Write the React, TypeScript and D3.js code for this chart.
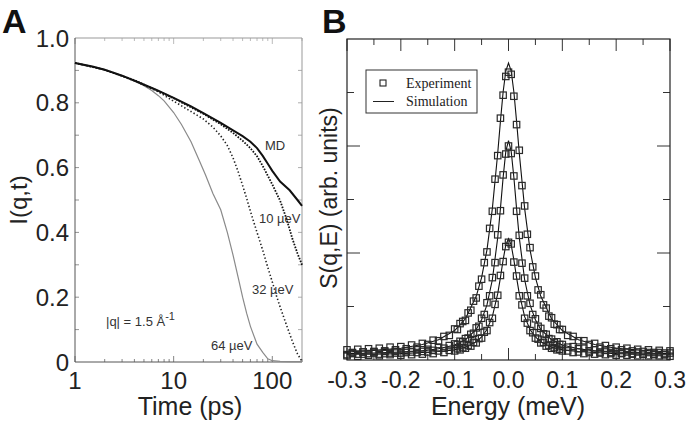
import React from "react";
import * as d3 from "d3";

// ---------- Panel A data ----------
const T_MD = [1, 1.5, 2, 3, 4.5, 6.7, 10, 15, 20, 30, 40, 50, 60, 70, 80, 90, 100, 120, 150, 180, 200];
const I_MD = [0.923, 0.912, 0.902, 0.884, 0.862, 0.840, 0.815, 0.789, 0.768, 0.738, 0.715, 0.697, 0.680, 0.660, 0.636, 0.612, 0.590, 0.557, 0.530, 0.500, 0.482];

const T_10 = [1, 2, 4, 10, 20, 30, 40, 50, 60, 70, 80, 90, 100, 120, 140, 160, 180, 200];
const I_10 = [0.923, 0.902, 0.870, 0.814, 0.766, 0.734, 0.707, 0.683, 0.660, 0.635, 0.605, 0.575, 0.548, 0.498, 0.440, 0.380, 0.335, 0.300];

const T_32 = [1, 2, 4, 7, 10, 15, 20, 25, 30, 35, 40, 45, 50, 55, 60, 70, 80, 90, 100, 110, 120, 140, 160, 180, 200];
const I_32 = [0.923, 0.902, 0.868, 0.834, 0.805, 0.773, 0.750, 0.725, 0.698, 0.668, 0.630, 0.588, 0.545, 0.505, 0.465, 0.400, 0.345, 0.292, 0.247, 0.205, 0.170, 0.112, 0.063, 0.025, 0.002];

const T_64 = [1, 2, 3, 4, 5, 6, 7, 8, 10, 12, 15, 18, 21, 25, 30, 35, 40, 45, 50, 55, 60, 70, 80, 90, 100, 120, 150, 200];
const I_64 = [0.923, 0.902, 0.884, 0.868, 0.853, 0.838, 0.822, 0.806, 0.770, 0.733, 0.680, 0.625, 0.578, 0.520, 0.470, 0.400, 0.330, 0.262, 0.200, 0.150, 0.110, 0.055, 0.030, 0.010, 0.004, 0.002, 0.001, 0.001];

const A_Y_TICKS = [0, 0.2, 0.4, 0.6, 0.8, 1.0];
const A_Y_LABELS = ["0", "0.2", "0.4", "0.6", "0.8", "1.0"];
const A_X_TICKS = [1, 10, 100];
const A_X_LABELS = ["1", "10", "100"];

// ---------- Panel B data ----------
const E_EXP = [
  -0.30, -0.29, -0.28, -0.27, -0.26, -0.25, -0.24, -0.23, -0.22, -0.21, -0.20, -0.19, -0.18, -0.17, -0.16, -0.15, -0.14, -0.13, -0.12, -0.11,
  -0.100, -0.095, -0.090, -0.085, -0.080, -0.075, -0.070, -0.065, -0.060, -0.055, -0.050, -0.045, -0.040, -0.035, -0.030, -0.025, -0.020, -0.015, -0.010, -0.005,
  0,
  0.005, 0.010, 0.015, 0.020, 0.025, 0.030, 0.035, 0.040, 0.045, 0.050, 0.055, 0.060, 0.065, 0.070, 0.075, 0.080, 0.085, 0.090, 0.095, 0.100,
  0.11, 0.12, 0.13, 0.14, 0.15, 0.16, 0.17, 0.18, 0.19, 0.20, 0.21, 0.22, 0.23, 0.24, 0.25, 0.26, 0.27, 0.28, 0.29, 0.30,
];
const EXP_TALL = [
  0.19, 0.13, 0.20, 0.15, 0.21, 0.16, 0.22, 0.17, 0.24, 0.19, 0.25, 0.21, 0.28, 0.24, 0.31, 0.29, 0.37, 0.36, 0.44, 0.46,
  0.58, 0.57, 0.68, 0.72, 0.74, 0.88, 0.93, 1.10, 1.16, 1.38, 1.51, 1.82, 2.02, 2.46, 2.78, 3.38, 3.82, 4.52, 4.95, 5.30,
  5.38,
  5.34, 4.93, 4.40, 3.92, 3.26, 2.88, 2.35, 2.10, 1.74, 1.57, 1.31, 1.22, 1.03, 0.97, 0.82, 0.79, 0.67, 0.66, 0.57, 0.57,
  0.46, 0.44, 0.36, 0.36, 0.29, 0.31, 0.24, 0.27, 0.21, 0.24, 0.19, 0.22, 0.17, 0.20, 0.16, 0.19, 0.14, 0.18, 0.13, 0.17,
];
const EXP_MID = [
  0.10, 0.14, 0.11, 0.15, 0.12, 0.15, 0.11, 0.16, 0.13, 0.16, 0.13, 0.17, 0.15, 0.19, 0.16, 0.20, 0.18, 0.23, 0.22, 0.27,
  0.30, 0.29, 0.35, 0.34, 0.40, 0.41, 0.48, 0.50, 0.60, 0.63, 0.78, 0.85, 1.07, 1.20, 1.54, 1.82, 2.34, 2.79, 3.46, 3.85,
  4.00,
  3.86, 3.44, 2.78, 2.33, 1.81, 1.53, 1.20, 1.06, 0.85, 0.77, 0.63, 0.59, 0.49, 0.48, 0.40, 0.39, 0.33, 0.34, 0.29, 0.29,
  0.24, 0.25, 0.21, 0.22, 0.17, 0.19, 0.15, 0.18, 0.14, 0.16, 0.13, 0.15, 0.12, 0.15, 0.11, 0.14, 0.11, 0.14, 0.10, 0.13,
];
const EXP_LOW = [
  0.08, 0.12, 0.07, 0.11, 0.09, 0.13, 0.08, 0.12, 0.10, 0.13, 0.09, 0.14, 0.10, 0.14, 0.11, 0.15, 0.12, 0.17, 0.14, 0.18,
  0.17, 0.21, 0.19, 0.23, 0.22, 0.27, 0.26, 0.33, 0.32, 0.40, 0.41, 0.52, 0.55, 0.70, 0.78, 1.04, 1.21, 1.58, 1.84, 2.12,
  2.20,
  2.17, 1.83, 1.57, 1.20, 1.03, 0.78, 0.69, 0.55, 0.51, 0.41, 0.39, 0.32, 0.33, 0.26, 0.27, 0.22, 0.23, 0.19, 0.20, 0.17,
  0.17, 0.14, 0.15, 0.12, 0.14, 0.11, 0.13, 0.10, 0.12, 0.09, 0.12, 0.09, 0.11, 0.08, 0.11, 0.08, 0.10, 0.08, 0.10, 0.07,
];

const E_SIM = [-0.30, -0.25, -0.20, -0.16, -0.13, -0.10, -0.08, -0.06, -0.05, -0.04, -0.03, -0.02, -0.015, -0.01, -0.005, 0,
  0.005, 0.01, 0.015, 0.02, 0.03, 0.04, 0.05, 0.06, 0.08, 0.10, 0.13, 0.16, 0.20, 0.25, 0.30];
const SIM_TALL = [0.15, 0.18, 0.22, 0.29, 0.38, 0.55, 0.77, 1.19, 1.54, 2.06, 2.83, 3.87, 4.46, 5.01, 5.40, 5.55,
  5.40, 5.01, 4.46, 3.87, 2.83, 2.06, 1.54, 1.19, 0.77, 0.55, 0.38, 0.29, 0.22, 0.18, 0.15];
const SIM_MID = [0.12, 0.13, 0.15, 0.17, 0.21, 0.28, 0.38, 0.57, 0.75, 1.03, 1.50, 2.29, 2.83, 3.41, 3.90, 4.10,
  3.90, 3.41, 2.83, 2.29, 1.50, 1.03, 0.75, 0.57, 0.38, 0.28, 0.21, 0.17, 0.15, 0.13, 0.12];
const SIM_LOW = [0.11, 0.11, 0.12, 0.14, 0.16, 0.19, 0.24, 0.34, 0.43, 0.57, 0.81, 1.24, 1.54, 1.87, 2.15, 2.27,
  2.15, 1.87, 1.54, 1.24, 0.81, 0.57, 0.43, 0.34, 0.24, 0.19, 0.16, 0.14, 0.12, 0.11, 0.11];

const B_X_TICKS = [-0.3, -0.2, -0.1, 0, 0.1, 0.2, 0.3];
const B_X_LABELS = ["-0.3", "-0.2", "-0.1", "0.0", "0.1", "0.2", "0.3"];
const B_X_MINOR = [-0.25, -0.15, -0.05, 0.05, 0.15, 0.25];
const B_Y_MAJOR = [2, 4];
const B_Y_MINOR = [1, 3, 5];

const SANS = "'Liberation Sans', Arial, Helvetica, sans-serif";
const SERIF = "'Liberation Serif', 'Times New Roman', serif";

export default function App() {
  // Panel A scales
  const xA = d3.scaleLog().domain([1, 200]).range([75, 302]);
  const yA = d3.scaleLinear().domain([0, 1]).range([362, 38]);
  const lineA = (ts: number[], is: number[]) =>
    d3.line<number>().x((_, i) => xA(ts[i])).y((d) => yA(d))(is) || "";

  // Panel B scales
  const xB = d3.scaleLinear().domain([-0.3, 0.3]).range([347, 670]);
  const yB = d3.scaleLinear().domain([0, 6]).range([360, 39]);
  const lineB = (vals: number[]) =>
    d3.line<number>().x((_, i) => xB(E_SIM[i])).y((d) => yB(d))(vals) || "";

  const logTicks = xA.ticks();
  const aYMinor = d3.range(1, 10).map((k) => k / 10);

  const sq = 6.4;
  const expSeries = [EXP_TALL, EXP_MID, EXP_LOW];

  return (
    <svg width={689} height={423} style={{ position: "absolute", left: 0, top: 0, background: "#fff" }}>
      <rect x={0} y={0} width={689} height={423} fill="#fff" />
      {/* ================= Panel A ================= */}
      <text x={2} y={33} fontFamily={SANS} fontWeight="bold" fontSize={34} fill="#111">A</text>
      {logTicks.map((t, i) => {
        const major = t === 1 || t === 10 || t === 100;
        const x = xA(t);
        return (
          <g key={"lt" + i}>
            <line x1={x} x2={x} y1={362} y2={major ? 356 : 359} stroke="#666" strokeWidth={0.8} />
            <line x1={x} x2={x} y1={38} y2={major ? 44 : 41} stroke="#aaa" strokeWidth={0.8} />
          </g>
        );
      })}
      {aYMinor.map((v, i) => (
        <g key={"ay" + i}>
          <line x1={75} x2={79} y1={yA(v)} y2={yA(v)} stroke="#777" strokeWidth={0.8} />
          <line x1={302} x2={298} y1={yA(v)} y2={yA(v)} stroke="#999" strokeWidth={0.8} />
        </g>
      ))}
      <line x1={75} x2={302} y1={38} y2={38} stroke="#999" strokeWidth={1} />
      <line x1={302} x2={302} y1={38} y2={362} stroke="#999" strokeWidth={1} />
      <line x1={75} x2={75} y1={38} y2={362} stroke="#555" strokeWidth={1} />
      <line x1={75} x2={302} y1={362} y2={362} stroke="#555" strokeWidth={1} />

      <path d={lineA(T_64, I_64)} fill="none" stroke="#8a8a8a" strokeWidth={1.2} />
      <path d={lineA(T_32, I_32)} fill="none" stroke="#222" strokeWidth={1.6} strokeDasharray="1.4,2.2" />
      <path d={lineA(T_10, I_10)} fill="none" stroke="#111" strokeWidth={1.8} strokeDasharray="1.6,1.4" />
      <path d={lineA(T_MD, I_MD)} fill="none" stroke="#111" strokeWidth={2} />

      <g fontFamily={SANS} fontSize={13} fill="#333">
        <text x={265} y={150}>MD</text>
        <text x={259} y={223}>10 µeV</text>
        <text x={252} y={294}>32 µeV</text>
        <text x={211} y={350}>64 µeV</text>
        <text x={106} y={326}>
          |q| = 1.5 Å<tspan dy={-6} fontSize={11}>-1</tspan>
        </text>
      </g>

      <g fontFamily={SANS} fontSize={24} fill="#222">
        {A_Y_TICKS.map((v, i) => (
          <text key={"ayl" + i} x={69} y={yA(v)} dy="0.36em" textAnchor="end">{A_Y_LABELS[i]}</text>
        ))}
        {A_X_TICKS.map((v, i) => (
          <text key={"axl" + i} x={xA(v)} y={389} textAnchor="middle">{A_X_LABELS[i]}</text>
        ))}
      </g>
      <text x={190} y={415} textAnchor="middle" fontFamily={SANS} fontSize={25} fill="#222">Time (ps)</text>
      <text transform="translate(27,200) rotate(-90)" textAnchor="middle" fontFamily={SANS} fontSize={24} fill="#222">I(q,t)</text>

      {/* ================= Panel B ================= */}
      <text x={322} y={33} fontFamily={SANS} fontWeight="bold" fontSize={34} fill="#111">B</text>
      {B_X_TICKS.map((v, i) => (
        <g key={"bx" + i}>
          <line x1={xB(v)} x2={xB(v)} y1={39} y2={51} stroke="#333" strokeWidth={1} />
          <line x1={xB(v)} x2={xB(v)} y1={360} y2={348} stroke="#333" strokeWidth={1} />
        </g>
      ))}
      {B_X_MINOR.map((v, i) => (
        <g key={"bxm" + i}>
          <line x1={xB(v)} x2={xB(v)} y1={39} y2={45} stroke="#333" strokeWidth={1} />
          <line x1={xB(v)} x2={xB(v)} y1={360} y2={354} stroke="#333" strokeWidth={1} />
        </g>
      ))}
      {B_Y_MAJOR.map((v, i) => (
        <g key={"bym" + i}>
          <line x1={347} x2={360} y1={yB(v)} y2={yB(v)} stroke="#333" strokeWidth={1} />
          <line x1={670} x2={657} y1={yB(v)} y2={yB(v)} stroke="#333" strokeWidth={1} />
        </g>
      ))}
      {B_Y_MINOR.map((v, i) => (
        <g key={"byn" + i}>
          <line x1={347} x2={354} y1={yB(v)} y2={yB(v)} stroke="#333" strokeWidth={1} />
          <line x1={670} x2={663} y1={yB(v)} y2={yB(v)} stroke="#333" strokeWidth={1} />
        </g>
      ))}

      {[SIM_TALL, SIM_MID, SIM_LOW].map((s, i) => (
        <path key={"sim" + i} d={lineB(s)} fill="none" stroke="#111" strokeWidth={1.1} />
      ))}
      {expSeries.map((s, k) => (
        <g key={"exp" + k}>
          {s.map((v, i) => (
            <rect key={i} x={xB(E_EXP[i]) - sq / 2} y={yB(v) - sq / 2} width={sq} height={sq}
              fill="none" stroke="#2a2a2a" strokeWidth={1.2} />
          ))}
        </g>
      ))}

      <rect x={347} y={39} width={323} height={321} fill="none" stroke="#222" strokeWidth={1.2} />

      <rect x={366} y={70} width={111} height={43} fill="#fff" stroke="#333" strokeWidth={1} />
      <rect x={380} y={80} width={6} height={6} fill="none" stroke="#222" strokeWidth={1.1} />
      <line x1={373} x2={394} y1={101.5} y2={101.5} stroke="#222" strokeWidth={1} />
      <g fontFamily={SERIF} fontSize={14} fill="#222">
        <text x={406} y={88}>Experiment</text>
        <text x={406} y={106}>Simulation</text>
      </g>

      <g fontFamily={SANS} fontSize={23} fill="#222">
        {B_X_TICKS.map((v, i) => (
          <text key={"bxl" + i} x={xB(v)} y={388} textAnchor="middle">{B_X_LABELS[i]}</text>
        ))}
      </g>
      <text x={508} y={415} textAnchor="middle" fontFamily={SANS} fontSize={25} fill="#222">Energy (meV)</text>
      <text transform="translate(337,198) rotate(-90)" textAnchor="middle" fontFamily={SANS} fontSize={23} fill="#222">S(q,E) (arb. units)</text>
    </svg>
  );
}
